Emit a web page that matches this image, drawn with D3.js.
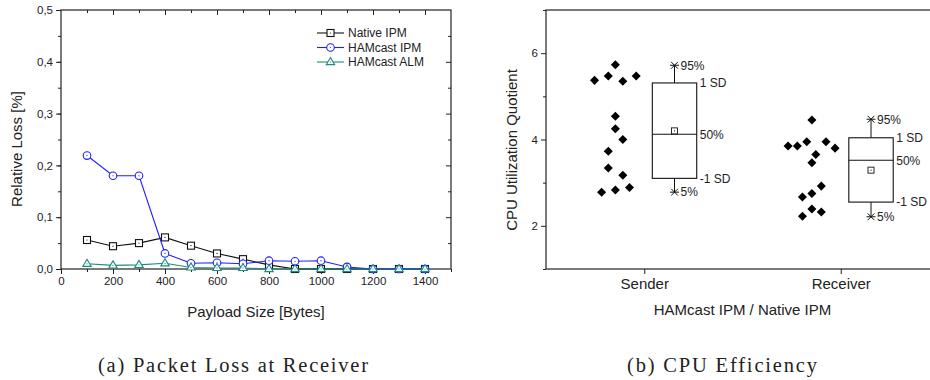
<!DOCTYPE html>
<html>
<head>
<meta charset="utf-8">
<script src="https://cdn.jsdelivr.net/npm/d3@7"></script>
<style>
  body { margin: 0; background: #fff; }
  svg { display: block; font-family: "Liberation Sans", Arial, sans-serif; }
  .tick-label { font-size: 11.5px; fill: #222; }
  .axis-title { font-size: 15px; fill: #222; }
  .legend-text { font-size: 12px; fill: #222; }
  .caption { font-family: "Liberation Serif", "Times New Roman", serif; font-size: 20.5px; fill: #222; }
</style>
</head>
<body>
<div id="chart-container"></div>
<script>
// ---- (a) packet loss at receiver ----
const payloadSizes = [100, 200, 300, 400, 500, 600, 700, 800, 900, 1000, 1100, 1200, 1300, 1400];
const nativeIpmLoss = [0.056, 0.044, 0.050, 0.061, 0.045, 0.030, 0.019, 0.008, 0, 0, 0, 0, 0, 0];
const hamcastIpmLoss = [0.219, 0.180, 0.180, 0.030, 0.011, 0.012, 0.010, 0.016, 0.015, 0.016, 0.004, 0, 0, 0];
const hamcastAlmLoss = [0.010, 0.007, 0.008, 0.011, 0.003, 0.002, 0.002, 0, 0, 0, 0, 0, 0, 0];
const lossXTicks = [0, 200, 400, 600, 800, 1000, 1200, 1400];
const lossYTicks = [0, 0.1, 0.2, 0.3, 0.4, 0.5];
const lossSeries = ['Native IPM', 'HAMcast IPM', 'HAMcast ALM'];

// ---- (b) cpu efficiency ----
const cpuGroups = ['Sender', 'Receiver'];
const senderQuotients = [5.73, 5.37, 5.47, 5.35, 5.47, 4.54, 4.25, 4.00, 3.73, 3.34, 3.17, 2.78, 2.83, 2.89];
const senderJitter = [-0.147, -0.253, -0.183, -0.109, -0.041, -0.147, -0.147, -0.109, -0.183, -0.183, -0.109, -0.217, -0.147, -0.075];
const receiverQuotients = [4.45, 3.85, 3.85, 3.95, 3.95, 3.80, 3.65, 3.46, 2.92, 2.75, 2.67, 2.22, 2.39, 2.32];
const receiverJitter = [-0.147, -0.268, -0.221, -0.173, -0.075, -0.029, -0.127, -0.147, -0.099, -0.147, -0.195, -0.195, -0.147, -0.099];
const boxP5 = [2.78, 2.21];
const boxSdLow = [3.10, 2.55];
const boxMedian = [4.12, 3.52];
const boxMean = [4.20, 3.29];
const boxSdHigh = [5.31, 4.04];
const boxP95 = [5.72, 4.47];
const cpuYTicks = [2, 4, 6];
const cpuYMinor = [1, 3, 5, 7];

const colors = { 'Native IPM': '#111111', 'HAMcast IPM': '#1f1fff', 'HAMcast ALM': '#1a8c80' };

const svg = d3.select('#chart-container').append('svg')
  .attr('width', 930).attr('height', 380);

// ===================== chart (a) =====================
const a = { left: 61, right: 451, top: 10, bottom: 269 };
const xA = d3.scaleLinear().domain([0, 1500]).range([a.left, a.right]);
const yA = d3.scaleLinear().domain([0, 0.5]).range([a.bottom, a.top]);
const gA = svg.append('g');

const commaFmt = d => d3.format('.1f')(d).replace('.', ',');

// bottom axis
gA.append('g').attr('transform', `translate(0,${a.bottom})`)
  .call(d3.axisBottom(xA).tickValues(d3.range(0, 1501, 100)).tickSize(3).tickFormat(''))
  .call(g => g.select('.domain').remove());
gA.append('g').attr('transform', `translate(0,${a.bottom})`)
  .call(d3.axisBottom(xA).tickValues(lossXTicks).tickSize(5).tickPadding(3).tickFormat(d3.format('d')))
  .call(g => g.select('.domain').remove())
  .call(g => g.selectAll('text').attr('class', 'tick-label'));
// left axis
gA.append('g').attr('transform', `translate(${a.left},0)`)
  .call(d3.axisLeft(yA).tickValues(d3.range(0, 0.51, 0.05)).tickSize(3).tickFormat(''))
  .call(g => g.select('.domain').remove());
gA.append('g').attr('transform', `translate(${a.left},0)`)
  .call(d3.axisLeft(yA).tickValues(lossYTicks).tickSize(5).tickPadding(3).tickFormat(commaFmt))
  .call(g => g.select('.domain').remove())
  .call(g => g.selectAll('text').attr('class', 'tick-label'));
// top / right mirrored ticks, pointing inward
gA.append('g').attr('transform', `translate(0,${a.top})`)
  .call(d3.axisBottom(xA).tickValues(d3.range(100, 1500, 100)).tickSizeInner(3).tickSizeOuter(0).tickFormat(''))
  .call(g => g.select('.domain').remove())
  .call(g => g.selectAll('line').attr('y2', d => d % 200 === 0 ? 5 : 3));
gA.append('g').attr('transform', `translate(${a.right},0)`)
  .call(d3.axisLeft(yA).tickValues(d3.range(0.05, 0.5, 0.05)).tickSizeInner(3).tickSizeOuter(0).tickFormat(''))
  .call(g => g.select('.domain').remove())
  .call(g => g.selectAll('line').attr('x2', (d, i) => i % 2 === 1 ? -5 : -3));
gA.selectAll('.tick line').attr('stroke', '#222');

gA.append('rect')
  .attr('x', a.left).attr('y', a.top)
  .attr('width', a.right - a.left).attr('height', a.bottom - a.top)
  .attr('fill', 'none').attr('stroke', '#222').attr('stroke-width', 1.2);

const lossData = [nativeIpmLoss, hamcastIpmLoss, hamcastAlmLoss];
const line = d3.line().x(d => xA(d.x)).y(d => yA(d.y));

function drawMarker(g, name, cx, cy) {
  const c = colors[name];
  if (name === 'Native IPM') {
    g.append('rect').attr('x', cx - 3.5).attr('y', cy - 3.5).attr('width', 7).attr('height', 7)
      .attr('fill', '#fff').attr('stroke', c).attr('stroke-width', 1.1);
  } else if (name === 'HAMcast IPM') {
    g.append('circle').attr('cx', cx).attr('cy', cy).attr('r', 3.8)
      .attr('fill', '#fff').attr('stroke', c).attr('stroke-width', 1.1);
  } else {
    g.append('path').attr('d', `M${cx},${cy - 4.5}L${cx + 4.2},${cy + 2.6}L${cx - 4.2},${cy + 2.6}Z`)
      .attr('fill', '#fff').attr('stroke', c).attr('stroke-width', 1.1);
  }
  g.append('circle').attr('cx', cx).attr('cy', cy).attr('r', 0.6).attr('fill', c);
}

lossSeries.forEach((name, si) => {
  const pts = payloadSizes.map((x, i) => ({ x, y: lossData[si][i] }));
  const g = gA.append('g');
  g.append('path').datum(pts).attr('d', line)
    .attr('fill', 'none').attr('stroke', colors[name]).attr('stroke-width', 1.1);
  pts.forEach(p => drawMarker(g, name, xA(p.x), yA(p.y)));
});

// legend
const legend = gA.append('g');
lossSeries.forEach((name, i) => {
  const y = 33 + i * 14.5;
  legend.append('line').attr('x1', 317).attr('x2', 344).attr('y1', y).attr('y2', y)
    .attr('stroke', colors[name]).attr('stroke-width', 1.1);
  drawMarker(legend, name, 330.5, y);
  legend.append('text').attr('class', 'legend-text').attr('x', 348).attr('y', y + 4.2).text(name);
});

gA.append('text').attr('class', 'axis-title').attr('text-anchor', 'middle')
  .attr('x', (a.left + a.right) / 2).attr('y', 317).text('Payload Size [Bytes]');
gA.append('text').attr('class', 'axis-title').attr('text-anchor', 'middle')
  .attr('transform', 'translate(22,149) rotate(-90)').text('Relative Loss [%]');

// ===================== chart (b) =====================
const b = { left: 546, right: 939, top: 10, bottom: 269 };
const xB = d3.scaleLinear().domain([0.5, 2.5]).range([b.left, b.right]);
const yB = d3.scaleLinear().domain([1, 7]).range([b.bottom, b.top]);
const gB = svg.append('g');

gB.append('g').attr('transform', `translate(${b.left},0)`)
  .call(d3.axisLeft(yB).tickValues(cpuYMinor).tickSize(3).tickFormat(''))
  .call(g => g.select('.domain').remove());
gB.append('g').attr('transform', `translate(${b.left},0)`)
  .call(d3.axisLeft(yB).tickValues(cpuYTicks).tickSize(5).tickPadding(3).tickFormat(d3.format('d')))
  .call(g => g.select('.domain').remove())
  .call(g => g.selectAll('text').attr('class', 'tick-label'));
gB.append('g').attr('transform', `translate(0,${b.bottom})`)
  .call(d3.axisBottom(xB).tickValues([1, 2]).tickSize(5).tickPadding(4).tickFormat(d => cpuGroups[d - 1]))
  .call(g => g.select('.domain').remove())
  .call(g => g.selectAll('text').attr('class', 'axis-title'));
gB.selectAll('.tick line').attr('stroke', '#222');

gB.append('rect')
  .attr('x', b.left).attr('y', b.top)
  .attr('width', b.right - b.left).attr('height', b.bottom - b.top)
  .attr('fill', 'none').attr('stroke', '#222').attr('stroke-width', 1.2);

const diamond = d3.symbol().type(d3.symbolDiamond2).size(52);
const groupsData = [
  { q: senderQuotients, j: senderJitter },
  { q: receiverQuotients, j: receiverJitter },
];
groupsData.forEach((grp, gi) => {
  gB.append('g').selectAll('path').data(grp.q).join('path')
    .attr('d', diamond)
    .attr('transform', (d, i) => `translate(${xB(gi + 1 + grp.j[i])},${yB(d)})`)
    .attr('fill', '#000');
});

const boxOffset = 0.154;
const boxHalf = 0.113;
const star = (g, cx, cy) => {
  const s = 4.5;
  g.append('path')
    .attr('d', `M${cx - s},${cy}H${cx + s}M${cx - s * 0.75},${cy - s * 0.75}L${cx + s * 0.75},${cy + s * 0.75}M${cx - s * 0.75},${cy + s * 0.75}L${cx + s * 0.75},${cy - s * 0.75}`)
    .attr('stroke', '#111').attr('stroke-width', 1);
};
cpuGroups.forEach((name, i) => {
  const g = gB.append('g');
  const cx = xB(i + 1 + boxOffset);
  const x0 = xB(i + 1 + boxOffset - boxHalf);
  const x1 = xB(i + 1 + boxOffset + boxHalf);
  g.append('line').attr('x1', cx).attr('x2', cx).attr('y1', yB(boxP95[i])).attr('y2', yB(boxSdHigh[i]))
    .attr('stroke', '#111');
  g.append('line').attr('x1', cx).attr('x2', cx).attr('y1', yB(boxSdLow[i])).attr('y2', yB(boxP5[i]))
    .attr('stroke', '#111');
  g.append('rect').attr('x', x0).attr('y', yB(boxSdHigh[i]))
    .attr('width', x1 - x0).attr('height', yB(boxSdLow[i]) - yB(boxSdHigh[i]))
    .attr('fill', 'none').attr('stroke', '#111').attr('stroke-width', 1.1);
  g.append('line').attr('x1', x0).attr('x2', x1).attr('y1', yB(boxMedian[i])).attr('y2', yB(boxMedian[i]))
    .attr('stroke', '#111').attr('stroke-width', 1.1);
  g.append('rect').attr('x', cx - 3).attr('y', yB(boxMean[i]) - 3).attr('width', 6).attr('height', 6)
    .attr('fill', '#fff').attr('stroke', '#111').attr('stroke-width', 0.9);
  g.append('circle').attr('cx', cx).attr('cy', yB(boxMean[i])).attr('r', 0.6).attr('fill', '#111');
  star(g, cx, yB(boxP95[i]));
  star(g, cx, yB(boxP5[i]));

  const lbl = (x, y, t) => g.append('text').attr('class', 'legend-text')
    .attr('x', x).attr('y', y + 4.3).text(t);
  lbl(cx + 6, yB(boxP95[i]), '95%');
  lbl(x1 + 3, yB(boxSdHigh[i]), '1 SD');
  lbl(x1 + 3, yB(boxMedian[i]), '50%');
  lbl(x1 + 3, yB(boxSdLow[i]), '-1 SD');
  lbl(cx + 6, yB(boxP5[i]), '5%');
});

gB.append('text').attr('class', 'axis-title').attr('text-anchor', 'middle')
  .attr('x', (b.left + b.right) / 2).attr('y', 315).text('HAMcast IPM / Native IPM');
gB.append('text').attr('class', 'axis-title').attr('text-anchor', 'middle')
  .attr('transform', 'translate(517,150) rotate(-90)').text('CPU Utilization Quotient');

// ===================== captions =====================
svg.append('text').attr('class', 'caption').attr('text-anchor', 'middle')
  .attr('x', 233).attr('y', 372)
  .attr('textLength', 270).attr('lengthAdjust', 'spacing')
  .text('(a) Packet Loss at Receiver');
svg.append('text').attr('class', 'caption').attr('text-anchor', 'middle')
  .attr('x', 722).attr('y', 372)
  .attr('textLength', 190).attr('lengthAdjust', 'spacing')
  .text('(b) CPU Efficiency');
</script>
</body>
</html>
